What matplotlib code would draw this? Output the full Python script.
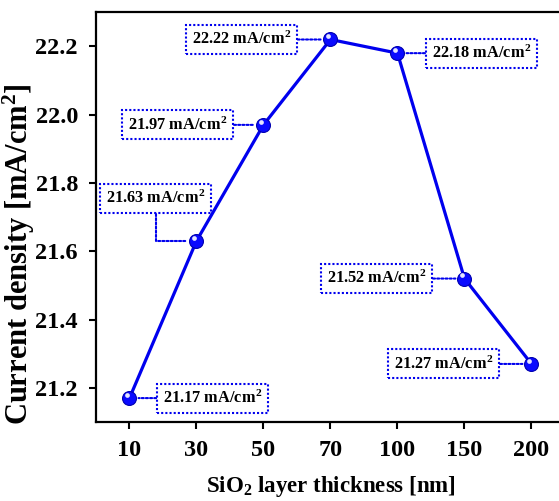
import matplotlib
matplotlib.use("Agg")
import matplotlib.pyplot as plt
import matplotlib.transforms as mtransforms

plt.rcParams["font.family"] = ["Liberation Serif", "DejaVu Serif"]
plt.rcParams["font.weight"] = "bold"
plt.rcParams["mathtext.fontset"] = "custom"
plt.rcParams["mathtext.rm"] = "Liberation Serif:bold"
plt.rcParams["mathtext.bf"] = "Liberation Serif:bold"
plt.rcParams["mathtext.it"] = "Liberation Serif:bold:italic"
plt.rcParams["mathtext.default"] = "bf"

# Data
thickness = ["10", "30", "50", "70", "100", "150", "200"]
current = [21.17, 21.63, 21.97, 22.22, 22.18, 21.52, 21.27]
yticks = [21.2, 21.4, 21.6, 21.8, 22.0, 22.2]

# Label box placement (x in category index, y in data units) and connector style
label_pos = [(1.24, 21.17), (0.39, 21.755), (0.72, 21.97), (1.67, 22.22),
             (5.25, 22.18), (3.69, 21.52), (4.69, 21.27)]
label_conn = ["arc3", "angle,angleA=-90,angleB=180", "arc3", "arc3",
              "arc3", "arc3", "arc3"]

BLUE = "#0000ee"

fig = plt.figure(figsize=(5.59, 5.01), dpi=100)
ax = fig.add_axes([0.1717, 0.1577, 0.839, 0.818])

x = list(range(len(thickness)))
ax.plot(x, current, color=BLUE, lw=2.3, zorder=3)
ax.plot(x, current, "o", ms=10, mfc="#0a0aff", mec="#0000b0", mew=0.8,
        zorder=4)
# small highlight on each marker to give it a glossy look
hl = ax.transData + mtransforms.ScaledTranslation(-1.7 / 72, 2.3 / 72,
                                                    fig.dpi_scale_trans)
ax.plot(x, current, "o", ms=3.4, mfc="white", mec="none", alpha=0.9,
        transform=hl, zorder=5)

dots = (0, (1, 1))
for xi, yi, (tx, ty), cs in zip(x, current, label_pos, label_conn):
    ax.annotate(
        f"{yi:.2f} mA/cm$^2$", xy=(xi, yi), xytext=(tx, ty),
        ha="center", va="center", fontsize=11.8, fontweight="bold",
        color="black", zorder=6,
        bbox=dict(boxstyle="square,pad=0.36", fc="white", ec=BLUE,
                  lw=1.5, ls=dots),
        arrowprops=dict(arrowstyle="-", color=BLUE, lw=1.5, ls=dots,
                        connectionstyle=cs, shrinkA=0, shrinkB=6.5),
    )

ax.set_xlim(-0.5, 6.5)
ax.set_ylim(21.1, 22.3)
ax.set_xticks(x)
ax.set_xticklabels(thickness)
ax.set_yticks(yticks)
ax.set_yticklabels([f"{v:.1f}" for v in yticks])

for side in ["left", "bottom", "top", "right"]:
    ax.spines[side].set_linewidth(1.6)
ax.tick_params(axis="both", direction="out", length=5, width=1.5,
               labelsize=17.5, top=False, right=False)
ax.tick_params(axis="y", pad=8)
ax.tick_params(axis="x", pad=8)

ax.set_xlabel("SiO$_2$ layer thickness [nm]", fontsize=16.5, fontweight="bold",
              labelpad=9)
ax.set_ylabel("Current density [mA/cm$^2$]", fontsize=22, fontweight="bold")
ax.yaxis.set_label_coords(-0.125, 0.41)

fig.savefig("out.png", dpi=100)
